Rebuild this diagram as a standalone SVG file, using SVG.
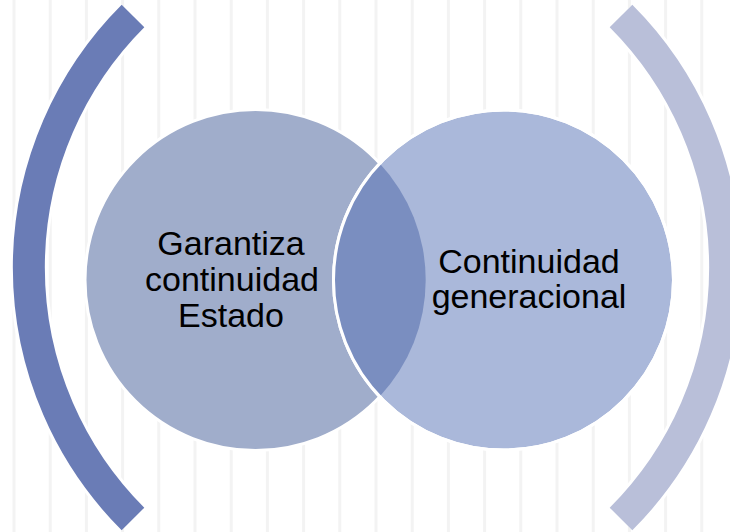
<svg xmlns="http://www.w3.org/2000/svg" width="730" height="532" viewBox="0 0 730 532">
<style>
.stripe{stroke:#f3f3f3;stroke-width:3}
.halo{fill:none;stroke:#ffffff;stroke-width:38}
.lbl{font-family:"Liberation Sans",Arial,sans-serif;font-size:34px;fill:#000000;text-anchor:middle}
</style>
<rect width="730" height="532" fill="#ffffff"/>
<g id="background">
<path class="stripe" d="M14 0V532M50.2 0V532M86.4 0V532M122.6 0V532M158.8 0V532M195 0V532M231.2 0V532M267.4 0V532M303.6 0V532M339.8 0V532M376 0V532M412.2 0V532M448.4 0V532M484.6 0V532M520.8 0V532M557 0V532M593.2 0V532M629.4 0V532M665.6 0V532M701.8 0V532"/>
</g>
<g id="left-bracket">
<path class="halo" d="M133 16A355.7 355.7 0 0 0 133 519"/>
<path d="M133 16A355.7 355.7 0 0 0 133 519" fill="none" stroke="#6a7cb6" stroke-width="32"/>
</g>
<g id="right-bracket">
<path class="halo" d="M621 16A355.7 355.7 0 0 1 621 519"/>
<path d="M621 16A355.7 355.7 0 0 1 621 519" fill="none" stroke="#b9bfd9" stroke-width="32"/>
</g>
<g id="circle-left">
<circle cx="255.5" cy="280" r="170.5" fill="#a0adcb" stroke="#ffffff" stroke-width="3"/>
</g>
<g id="circle-right">
<circle cx="503.5" cy="280" r="170" fill="#aab8da" stroke="#ffffff" stroke-width="3"/>
</g>
<g id="overlap">
<path d="M379.5 163.3A170.5 170.5 0 0 1 379.5 396.7A170 170 0 0 1 379.5 163.3Z" fill="#7a8ec0"/>
<circle cx="503.5" cy="280" r="170" fill="none" stroke="#ffffff" stroke-width="3"/>
</g>
<g id="labels">
<text class="lbl" x="231" y="255">Garantiza</text>
<text class="lbl" x="232" y="290.5">continuidad</text>
<text class="lbl" x="231" y="326.5">Estado</text>
<text class="lbl" x="529" y="272.5">Continuidad</text>
<text class="lbl" x="529" y="308">generacional</text>
</g>
</svg>
